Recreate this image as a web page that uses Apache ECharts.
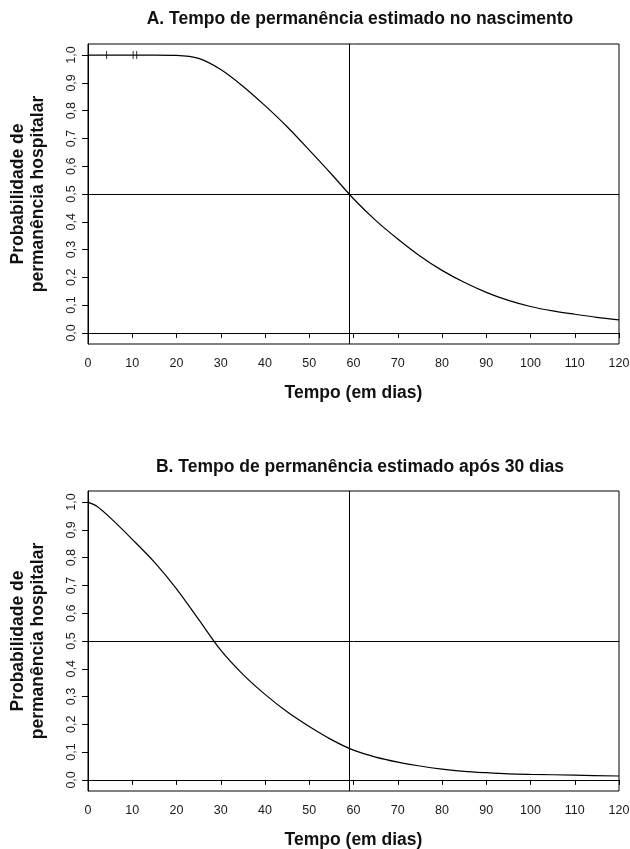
<!DOCTYPE html>
<html>
<head>
<meta charset="utf-8">
<script src="https://cdn.jsdelivr.net/npm/echarts@6/dist/echarts.min.js"></script>
<style>
html,body{margin:0;padding:0;background:#fff;}
#c{width:630px;height:849px;}
</style>
</head>
<body>
<div id="c"></div>
<script>
// ---- data ----
const titleA = 'A. Tempo de permanência estimado no nascimento';
const titleB = 'B. Tempo de permanência estimado após 30 dias';
const xName = 'Tempo (em dias)';
const yName = 'Probabilidade de\npermanência hospitalar';

const daysA = [0, 5, 10, 15, 20, 25, 30, 35, 40, 45, 50, 55, 60, 65, 70, 75, 80, 85, 90, 95, 100, 105, 110, 115, 120];
const survA = [1.0, 1.0, 1.0, 1.0, 0.999, 0.988, 0.948, 0.888, 0.818, 0.742, 0.658, 0.572, 0.483, 0.405, 0.338, 0.277, 0.225, 0.182, 0.146, 0.117, 0.095, 0.079, 0.067, 0.056, 0.047];
const censorA = [4.2, 10.2, 11.0];

const daysB = [0, 2, 5, 10, 15, 20, 25, 30, 35, 40, 45, 50, 55, 60, 65, 70, 75, 80, 85, 90, 95, 100, 110, 120];
const survB = [1.0, 0.985, 0.944, 0.866, 0.784, 0.688, 0.578, 0.467, 0.38, 0.308, 0.245, 0.192, 0.145, 0.107, 0.082, 0.064, 0.05, 0.039, 0.031, 0.026, 0.022, 0.02, 0.017, 0.014];

const xTicks = [0, 10, 20, 30, 40, 50, 60, 70, 80, 90, 100, 110, 120];
const yTicks = [0, 0.1, 0.2, 0.3, 0.4, 0.5, 0.6, 0.7, 0.8, 0.9, 1.0];
const refDay = 59;
const refProb = 0.5;

// ---- chart ----
const font = '"Liberation Sans", Arial, Helvetica, sans-serif';
const chart = echarts.init(document.getElementById('c'), null, {renderer: 'canvas'});

function mkX(gi) {
  return {
    type: 'value', gridIndex: gi, min: 0, max: 120, interval: 10,
    name: xName, nameLocation: 'middle', nameGap: 40,
    nameTextStyle: {fontFamily: font, fontWeight: 'bold', fontSize: 17.5, color: '#111'},
    axisLine: {show: true, lineStyle: {color: '#000', width: 1}},
    axisTick: {show: true, length: 5, lineStyle: {color: '#000'}},
    axisLabel: {fontFamily: font, fontSize: 12.5, color: '#1a1a1a', margin: 13,
      customValues: xTicks},
    splitLine: {show: false}
  };
}
function mkY(gi) {
  return {
    type: 'value', gridIndex: gi, min: -0.04, max: 1.04,
    name: yName, nameLocation: 'middle', nameGap: 40, nameRotate: 90,
    nameTextStyle: {fontFamily: font, fontWeight: 'bold', fontSize: 17.5, color: '#111', lineHeight: 20},
    axisLine: {show: true, lineStyle: {color: '#000', width: 1}},
    axisTick: {show: true, length: 6, customValues: yTicks, lineStyle: {color: '#000'}},
    axisLabel: {fontFamily: font, fontSize: 12.5, color: '#1a1a1a', rotate: 90, margin: 10,
      customValues: yTicks, formatter: v => v.toFixed(1).replace('.', ',')},
    splitLine: {show: false}
  };
}
function refLines() {
  return {
    silent: true, symbol: 'none',
    label: {show: false},
    lineStyle: {color: '#000', width: 1, type: 'solid'},
    data: [{xAxis: refDay}, {yAxis: refProb}]
  };
}

const option = {
  animation: false,
  backgroundColor: '#fff',
  title: [
    {text: titleA, left: 355, top: 5, textAlign: 'center',
     textStyle: {fontFamily: font, fontWeight: 'bold', fontSize: 17.5, color: '#111'}},
    {text: titleB, left: 355, top: 453, textAlign: 'center',
     textStyle: {fontFamily: font, fontWeight: 'bold', fontSize: 17.5, color: '#111'}}
  ],
  grid: [
    {left: 88, right: 11, top: 44, height: 300, show: true, borderColor: '#000', borderWidth: 1,
     backgroundColor: 'transparent', outerBoundsMode: 'none', containLabel: false},
    {left: 88, right: 11, top: 491, height: 300, show: true, borderColor: '#000', borderWidth: 1,
     backgroundColor: 'transparent', outerBoundsMode: 'none', containLabel: false}
  ],
  xAxis: [mkX(0), mkX(1)],
  yAxis: [mkY(0), mkY(1)],
  series: [
    {type: 'line', xAxisIndex: 0, yAxisIndex: 0, data: daysA.map((d, i) => [d, survA[i]]),
     smooth: 0.3, showSymbol: false, lineStyle: {color: '#000', width: 1.2},
     markLine: refLines()},
    {type: 'scatter', xAxisIndex: 0, yAxisIndex: 0, data: censorA.map(d => [d, 1.0]),
     symbol: 'rect', symbolSize: [1, 8], itemStyle: {color: '#000'}},
    {type: 'line', xAxisIndex: 1, yAxisIndex: 1, data: daysB.map((d, i) => [d, survB[i]]),
     smooth: 0.3, showSymbol: false, lineStyle: {color: '#000', width: 1.2},
     markLine: refLines()}
  ]
};
chart.setOption(option);
</script>
</body>
</html>
